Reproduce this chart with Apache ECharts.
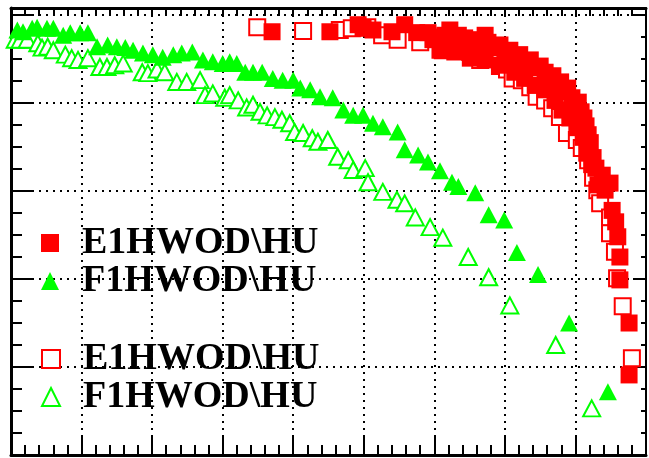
<!DOCTYPE html>
<html>
<head>
<meta charset="utf-8">
<style>
html,body{margin:0;padding:0;background:#fff;}
#chart{width:649px;height:458px;}
</style>
<script src="https://cdn.jsdelivr.net/npm/echarts@6/dist/echarts.min.js"></script>
</head>
<body>
<div id="chart"></div>
<script>
const legendNames = ['E1HWOD\\HU', 'F1HWOD\\HU', 'E1HWOD\\HU ', 'F1HWOD\\HU '];

const eFilled = [[3.70,4.81],[4.52,4.81],[4.92,4.89],[4.99,4.85],[5.13,4.83],[5.40,4.81],[5.58,4.89],[5.75,4.80],[5.91,4.80],[5.98,4.72],[6.05,4.75],[6.08,4.60],[6.15,4.77],[6.22,4.83],[6.25,4.74],[6.29,4.58],[6.34,4.77],[6.43,4.74],[6.51,4.69],[6.51,4.51],[6.59,4.72],[6.68,4.66],[6.72,4.77],[6.72,4.49],[6.76,4.69],[6.85,4.63],[6.93,4.66],[6.93,4.43],[7.00,4.58],[7.07,4.60],[7.14,4.51],[7.14,4.35],[7.21,4.55],[7.28,4.47],[7.28,4.28],[7.36,4.49],[7.43,4.40],[7.43,4.20],[7.50,4.42],[7.57,4.35],[7.57,4.15],[7.61,4.28],[7.68,4.31],[7.71,4.03],[7.74,4.20],[7.79,4.24],[7.81,3.92],[7.85,4.13],[7.89,4.17],[7.92,3.83],[7.95,4.06],[7.99,3.98],[8.02,3.72],[8.04,4.01],[8.08,3.90],[8.11,3.61],[8.12,3.83],[8.15,3.74],[8.18,3.64],[8.18,3.47],[8.21,3.55],[8.16,3.43],[8.23,3.30],[8.25,3.38],[8.29,3.26],[8.32,3.07],[8.38,3.18],[8.42,3.01],[8.49,3.09],[8.52,2.78],[8.57,2.65],[8.60,2.48],[8.63,2.25],[8.63,1.99],[8.76,1.50],[8.76,0.91]];

const eOpen = [[3.49,4.86],[4.14,4.82],[4.66,4.83],[4.83,4.85],[5.05,4.86],[5.26,4.77],[5.48,4.72],[5.80,4.69],[6.12,4.60],[6.36,4.63],[6.51,4.58],[6.65,4.49],[6.82,4.51],[6.93,4.42],[7.03,4.38],[7.11,4.28],[7.24,4.26],[7.36,4.18],[7.45,4.07],[7.57,4.03],[7.67,3.94],[7.78,3.84],[7.95,3.75],[7.88,3.66],[8.02,3.58],[8.09,3.49],[8.18,3.35],[8.25,3.15],[8.31,3.01],[8.35,2.86],[8.49,2.70],[8.49,2.52],[8.56,2.31],[8.59,2.01],[8.67,1.69],[8.80,1.10]];

const fFilled = [[0.09,4.83],[0.17,4.81],[0.30,4.85],[0.37,4.86],[0.51,4.85],[0.60,4.85],[0.74,4.77],[0.84,4.80],[0.98,4.80],[1.09,4.80],[1.22,4.64],[1.37,4.66],[1.50,4.64],[1.62,4.63],[1.73,4.60],[1.87,4.57],[2.01,4.55],[2.15,4.52],[2.30,4.55],[2.42,4.57],[2.57,4.58],[2.72,4.49],[2.86,4.47],[3.00,4.45],[3.10,4.47],[3.20,4.45],[3.32,4.35],[3.43,4.35],[3.56,4.35],[3.71,4.28],[3.85,4.26],[4.00,4.26],[4.10,4.17],[4.24,4.15],[4.38,4.07],[4.56,4.06],[4.71,3.92],[4.85,3.86],[4.99,3.86],[5.13,3.77],[5.27,3.73],[5.48,3.67],[5.58,3.47],[5.77,3.41],[5.91,3.33],[6.08,3.23],[6.25,3.10],[6.34,3.05],[6.58,2.98],[6.77,2.73],[6.99,2.67],[7.17,2.30],[7.47,2.05],[7.91,1.50],[8.46,0.72]];

const fOpen = [[0.06,4.72],[0.13,4.72],[0.23,4.72],[0.38,4.68],[0.44,4.63],[0.52,4.64],[0.60,4.60],[0.77,4.55],[0.86,4.51],[0.95,4.49],[1.09,4.51],[1.26,4.41],[1.36,4.41],[1.47,4.43],[1.59,4.45],[1.86,4.35],[1.94,4.34],[2.07,4.38],[2.18,4.35],[2.35,4.24],[2.49,4.24],[2.68,4.26],[2.75,4.09],[2.86,4.11],[3.03,4.06],[3.10,4.09],[3.22,4.03],[3.34,3.95],[3.43,3.98],[3.53,3.90],[3.63,3.86],[3.74,3.84],[3.84,3.81],[3.95,3.77],[4.02,3.67],[4.14,3.66],[4.27,3.60],[4.35,3.56],[4.49,3.58],[4.63,3.39],[4.78,3.35],[4.85,3.24],[5.02,3.26],[5.06,3.10],[5.27,2.99],[5.47,2.90],[5.58,2.86],[5.73,2.70],[5.94,2.59],[6.12,2.47],[6.48,2.25],[6.77,2.02],[7.07,1.70],[7.72,1.25],[8.23,0.53]];

const xMin = 0, xMax = 9, xStep = 1;
const yMin = 0, yMax = 5.08, yStep = 1;

const chart = echarts.init(document.getElementById('chart'), null, {renderer: 'canvas'});

const dotted = {color: '#000', width: 2, type: [2, 5]};
const legendText = {fontFamily: 'Liberation Serif', fontWeight: 'bold', fontSize: 38, color: '#000', lineHeight: 35, padding: [0, 0, 0, 18]};

const option = {
  animation: false,
  backgroundColor: '#fff',
  grid: {left: 11, right: 3, top: 8, bottom: 3, containLabel: false},
  xAxis: [
    {
      type: 'value', position: 'bottom', min: xMin, max: xMax, interval: xStep,
      axisLine: {show: true, onZero: false, lineStyle: {color: '#000', width: 3}},
      axisTick: {show: true, inside: true, length: 20, lineStyle: {color: '#000', width: 2}},
      minorTick: {show: true, splitNumber: 5, length: 10, lineStyle: {color: '#000', width: 2}},
      axisLabel: {show: false},
      splitLine: {show: true, lineStyle: dotted}
    },
    {
      type: 'value', position: 'top', min: xMin, max: xMax, interval: xStep,
      axisLine: {show: true, onZero: false, lineStyle: {color: '#000', width: 3}},
      axisTick: {show: true, inside: true, length: 8, lineStyle: {color: '#000', width: 2}},
      minorTick: {show: true, splitNumber: 5, length: 8, lineStyle: {color: '#000', width: 2}},
      axisLabel: {show: false},
      splitLine: {show: false}
    }
  ],
  yAxis: [
    {
      type: 'value', position: 'left', min: yMin, max: yMax, interval: yStep,
      axisLine: {show: true, onZero: false, lineStyle: {color: '#000', width: 3}},
      axisTick: {show: true, inside: true, length: 22, lineStyle: {color: '#000', width: 2}},
      minorTick: {show: true, splitNumber: 4, length: 11, lineStyle: {color: '#000', width: 2}},
      axisLabel: {show: false},
      splitLine: {show: true, lineStyle: dotted}
    },
    {
      type: 'value', position: 'right', min: yMin, max: yMax, interval: yStep,
      axisLine: {show: true, onZero: false, lineStyle: {color: '#000', width: 2}},
      axisTick: {show: true, inside: true, length: 13, lineStyle: {color: '#000', width: 2}},
      minorTick: {show: true, splitNumber: 4, length: 5, lineStyle: {color: '#000', width: 2}},
      axisLabel: {show: false},
      splitLine: {show: false}
    }
  ],
  legend: [
    {
      data: [legendNames[0], legendNames[1]], orient: 'vertical', left: 41, top: 224, padding: 0,
      itemWidth: 18, itemHeight: 18, itemGap: 0, selectedMode: false, textStyle: legendText
    },
    {
      data: [legendNames[2], legendNames[3]], orient: 'vertical', left: 41, top: 340, padding: 0,
      itemWidth: 18, itemHeight: 18, itemGap: 0, selectedMode: false, textStyle: legendText
    }
  ],
  series: [
    {
      name: legendNames[3], type: 'scatter', data: fOpen, symbol: 'triangle', symbolSize: [17, 16],
      itemStyle: {color: '#ffffff', borderColor: '#00ff00', borderWidth: 2, opacity: 1}
    },
    {
      name: legendNames[1], type: 'scatter', data: fFilled, symbol: 'triangle', symbolSize: [18, 17],
      itemStyle: {color: '#00ff00', opacity: 1}
    },
    {
      name: legendNames[2], type: 'scatter', data: eOpen, symbol: 'rect', symbolSize: 16,
      itemStyle: {color: '#ffffff', borderColor: '#ff0000', borderWidth: 2, opacity: 1}
    },
    {
      name: legendNames[0], type: 'scatter', data: eFilled, symbol: 'rect', symbolSize: 17,
      itemStyle: {color: '#ff0000', opacity: 1}
    }
  ]
};
chart.setOption(option);
</script>
</body>
</html>
